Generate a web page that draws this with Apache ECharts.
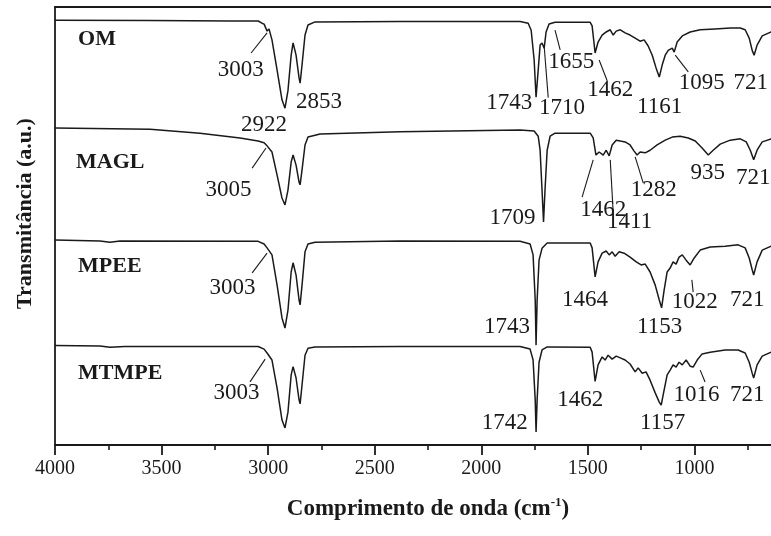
<!DOCTYPE html>
<html>
<head>
<meta charset="utf-8">
<script src="https://cdn.jsdelivr.net/npm/echarts@6/dist/echarts.min.js"></script>
<style>
  html, body { margin: 0; padding: 0; background: #fff; }
  #main { width: 771px; height: 536px; }
</style>
</head>
<body>
<div id="main"></div>
<script>
// espectros FTIR, [numero de onda cm-1, transmitancia empilhada (u.a.)]
const omData = [
  [4000, 97.0], [3554, 96.9], [3179, 96.8], [3047, 96.8], [3029, 96.3], [3019, 96.1],
  [3005, 94.5], [2996, 95.0], [2982, 92.5], [2958, 85.6], [2935, 78.8], [2921, 76.9],
  [2907, 80.9], [2892, 89.0], [2883, 91.8], [2869, 89.0], [2855, 83.8], [2850, 82.6],
  [2841, 86.8], [2827, 93.6], [2813, 95.9], [2780, 96.6], [2381, 96.7], [1818, 96.7],
  [1780, 96.3], [1766, 94.7], [1752, 87.9], [1743, 79.4], [1733, 85.6], [1724, 91.3],
  [1715, 91.8], [1705, 90.6], [1696, 94.3], [1682, 96.1], [1654, 96.5], [1489, 96.5],
  [1480, 95.7], [1466, 89.5], [1452, 92.0], [1433, 93.6], [1414, 94.3], [1395, 94.8],
  [1381, 93.6], [1367, 94.5], [1348, 94.8], [1325, 94.1], [1302, 93.6], [1278, 92.9],
  [1255, 92.2], [1236, 92.5], [1217, 91.1], [1198, 89.0], [1180, 86.1], [1165, 84.0],
  [1151, 86.8], [1137, 89.0], [1123, 90.1], [1114, 89.7], [1104, 90.6], [1095, 89.7],
  [1081, 92.0], [1057, 93.4], [1020, 94.3], [973, 94.8], [903, 95.0], [832, 95.2],
  [785, 95.2], [762, 94.8], [743, 92.9], [729, 90.1], [720, 89.0], [706, 91.3],
  [682, 93.4], [640, 94.3], [600, 94.6]
];
const maglData = [
  [4000, 72.4], [3554, 72.1], [3320, 71.2], [3132, 70.1], [3047, 69.4], [3019, 69.0],
  [3005, 68.3], [2996, 68.5], [2982, 66.9], [2958, 61.6], [2935, 56.4], [2921, 54.8],
  [2907, 58.2], [2892, 64.6], [2883, 66.2], [2869, 63.9], [2855, 60.0], [2850, 59.4],
  [2841, 62.8], [2827, 68.5], [2813, 70.3], [2756, 71.0], [2381, 71.5], [1818, 71.9],
  [1752, 71.7], [1733, 70.5], [1724, 67.3], [1715, 58.2], [1708, 50.9], [1701, 58.2],
  [1691, 67.3], [1677, 70.5], [1654, 71.2], [1489, 71.2], [1475, 70.1], [1462, 66.2],
  [1447, 66.9], [1428, 66.2], [1414, 67.3], [1400, 66.0], [1386, 68.5], [1367, 69.6],
  [1348, 69.4], [1325, 69.2], [1302, 68.5], [1283, 67.1], [1269, 66.2], [1255, 66.9],
  [1231, 66.7], [1208, 67.3], [1175, 68.5], [1137, 69.6], [1104, 70.3], [1067, 70.5],
  [1029, 70.1], [996, 69.4], [964, 67.8], [935, 66.2], [912, 67.3], [879, 68.7],
  [832, 69.6], [785, 69.9], [757, 69.2], [738, 67.3], [722, 65.1], [706, 67.3],
  [682, 69.2], [640, 69.9], [600, 70.0]
];
const mpeeData = [
  [4000, 46.8], [3789, 46.6], [3742, 46.3], [3695, 46.6], [3047, 46.5], [3019, 45.9],
  [3005, 45.0], [2996, 45.2], [2982, 43.4], [2958, 36.5], [2935, 29.0], [2921, 26.7],
  [2907, 30.8], [2892, 39.5], [2883, 41.6], [2869, 38.8], [2855, 33.1], [2850, 32.0],
  [2841, 36.5], [2827, 44.1], [2813, 45.9], [2780, 46.3], [2381, 46.6], [1818, 46.5],
  [1771, 45.9], [1757, 43.4], [1747, 33.1], [1743, 22.8], [1738, 33.1], [1729, 42.2],
  [1715, 44.9], [1691, 46.1], [1489, 46.1], [1480, 45.0], [1466, 38.4], [1452, 41.8],
  [1433, 43.8], [1414, 44.3], [1400, 43.4], [1386, 44.1], [1372, 43.1], [1353, 44.1],
  [1330, 43.8], [1302, 42.9], [1273, 41.8], [1250, 41.1], [1231, 41.3], [1208, 39.5],
  [1184, 36.5], [1165, 33.1], [1154, 31.3], [1142, 35.4], [1128, 39.5], [1114, 40.4],
  [1100, 41.8], [1086, 41.3], [1072, 42.9], [1057, 43.4], [1039, 42.2], [1020, 41.1],
  [1001, 42.7], [973, 44.5], [926, 45.2], [856, 45.4], [795, 45.7], [762, 45.0],
  [743, 42.7], [729, 40.0], [722, 38.8], [706, 41.8], [682, 44.5], [640, 45.4], [600, 45.6]
];
const mtmpeData = [
  [4000, 22.7], [3789, 22.6], [3742, 22.3], [3672, 22.5], [3047, 22.5], [3019, 21.9],
  [3005, 21.0], [2996, 21.2], [2982, 19.4], [2958, 13.0], [2935, 5.7], [2921, 3.9],
  [2907, 7.5], [2892, 16.0], [2883, 17.9], [2869, 15.3], [2855, 10.3], [2850, 9.4],
  [2841, 13.7], [2827, 20.5], [2813, 22.1], [2780, 22.4], [2381, 22.5], [1818, 22.5],
  [1771, 21.9], [1757, 19.4], [1747, 10.3], [1743, 3.0], [1738, 10.3], [1729, 18.9],
  [1715, 21.7], [1691, 22.4], [1489, 22.3], [1480, 21.2], [1466, 14.5], [1452, 18.3],
  [1433, 20.1], [1419, 19.4], [1405, 20.5], [1386, 19.6], [1367, 20.3], [1348, 19.9],
  [1325, 19.4], [1302, 18.5], [1278, 16.7], [1264, 17.6], [1245, 16.4], [1227, 16.7],
  [1208, 14.8], [1184, 11.9], [1165, 9.8], [1156, 9.1], [1142, 12.6], [1128, 16.0],
  [1114, 17.1], [1100, 18.3], [1086, 17.8], [1072, 18.9], [1057, 18.3], [1039, 19.4],
  [1020, 18.0], [1006, 17.8], [987, 19.4], [964, 20.8], [926, 21.2], [856, 21.7],
  [795, 21.7], [762, 21.0], [743, 18.9], [729, 16.4], [722, 15.3], [706, 18.3],
  [682, 20.3], [640, 21.2], [600, 21.4]
];

// nomes das amostras: [texto, x, y]
const sampleNames = [
  ['OM', 3892, 92.6],
  ['MAGL', 3901, 64.6],
  ['MPEE', 3892, 40.9],
  ['MTMPE', 3892, 16.4]
];

// picos: [texto, x, y, linha guia opcional [x1, y1, x2, y2]]
const peakNotes = [
  ['3003', 3129, 85.6, [3005, 94.1, 3080, 89.5]],
  ['2922', 3019, 73.1],
  ['2853', 2761, 78.3],
  ['1743', 1869, 78.1],
  ['1710', 1621, 76.9, [1705, 91.1, 1686, 79.3]],
  ['1655', 1578, 87.4, [1654, 94.7, 1630, 90.2]],
  ['1462', 1395, 81.0, [1447, 87.9, 1409, 83.1]],
  ['1161', 1163, 77.2],
  ['1095', 966, 82.6, [1090, 89.0, 1029, 85.2]],
  ['721', 736, 82.6],

  ['3005', 3186, 58.2, [3010, 67.8, 3075, 63.2]],
  ['1709', 1853, 51.8],
  ['1462', 1428, 53.7, [1475, 65.1, 1527, 56.6]],
  ['1411', 1304, 50.9, [1395, 65.1, 1381, 53.0]],
  ['1282', 1191, 58.2, [1278, 65.8, 1240, 59.8]],
  ['935', 938, 62.1],
  ['721', 724, 61.0],

  ['3003', 3167, 35.8, [3005, 43.8, 3075, 39.3]],
  ['1743', 1879, 26.9],
  ['1464', 1513, 33.1],
  ['1153', 1163, 26.9],
  ['1022', 999, 32.6, [1012, 37.7, 1006, 34.9]],
  ['721', 752, 33.1],

  ['3003', 3148, 11.9, [3014, 19.6, 3085, 14.4]],
  ['1742', 1890, 5.0],
  ['1462', 1536, 10.3],
  ['1157', 1149, 5.0],
  ['1016', 990, 11.4, [973, 17.1, 950, 14.4]],
  ['721', 752, 11.4]
];

const SERIF = 'Liberation Serif';
const INK = '#1a1a1a';

let chartDom = document.getElementById('main');
let myChart = echarts.init(chartDom);

let traceSeries = function (data) {
  return {
    type: 'line',
    data: data,
    showSymbol: false,
    silent: true,
    clip: true,
    lineStyle: { color: INK, width: 1.5 },
    z: 3
  };
};

let noteSeries = function (list, bold, size, align) {
  return {
    type: 'custom',
    silent: true,
    clip: false,
    z: 5,
    data: list.map(n => [n[1], n[2]]),
    encode: { x: 0, y: 1 },
    renderItem: function (params, api) {
      let n = list[params.dataIndex];
      let p = api.coord([n[1], n[2]]);
      let children = [{
        type: 'text',
        x: p[0],
        y: p[1],
        style: {
          text: n[0],
          fill: INK,
          fontFamily: SERIF,
          fontSize: size,
          fontWeight: bold ? 'bold' : 'normal',
          align: align,
          verticalAlign: 'middle'
        }
      }];
      if (n[3]) {
        let a = api.coord([n[3][0], n[3][1]]);
        let b = api.coord([n[3][2], n[3][3]]);
        children.push({
          type: 'line',
          shape: { x1: a[0], y1: a[1], x2: b[0], y2: b[1] },
          style: { stroke: INK, lineWidth: 1.1 }
        });
      }
      return { type: 'group', children: children };
    }
  };
};

let option = {
  animation: false,
  backgroundColor: '#fff',
  grid: { left: 55, top: 7, width: 746, height: 438, outerBoundsMode: 'none', containLabel: false },
  xAxis: [
    {
      type: 'value',
      inverse: true,
      min: 500,
      max: 4000,
      interval: 500,
      axisLine: { lineStyle: { color: INK, width: 1.8 } },
      axisTick: { length: 10, lineStyle: { color: INK, width: 1.8 } },
      minorTick: { show: true, splitNumber: 2, length: 5, lineStyle: { color: INK, width: 1.6 } },
      splitLine: { show: false },
      axisLabel: {
        fontFamily: SERIF, fontSize: 20, color: INK, margin: 14, showMinLabel: true,
        formatter: v => String(v)
      },
      name: '{b|Comprimento de onda (cm}{s|-1}{b|)}',
      nameLocation: 'middle',
      nameGap: 51,
      nameTextStyle: {
        rich: {
          b: { fontFamily: SERIF, fontSize: 23, fontWeight: 'bold', color: INK, lineHeight: 26 },
          s: { fontFamily: SERIF, fontSize: 13, fontWeight: 'bold', color: INK, verticalAlign: 'top', lineHeight: 26 }
        }
      }
    },
    {
      type: 'value',
      position: 'top',
      inverse: true,
      min: 500,
      max: 4000,
      axisLine: { show: true, lineStyle: { color: INK, width: 1.8 } },
      axisTick: { show: false },
      axisLabel: { show: false },
      splitLine: { show: false }
    }
  ],
  yAxis: {
    type: 'value',
    min: 0,
    max: 100,
    axisLine: { show: true, lineStyle: { color: INK, width: 1.8 } },
    axisTick: { show: false },
    axisLabel: { show: false },
    splitLine: { show: false },
    name: 'Transmitância (a.u.)',
    nameLocation: 'middle',
    nameGap: 19,
    nameTextStyle: {
      fontFamily: SERIF,
      fontSize: 22,
      fontWeight: 'bold',
      color: INK,
      padding: [0, 0, 0, 25]
    }
  },
  series: [
    traceSeries(omData),
    traceSeries(maglData),
    traceSeries(mpeeData),
    traceSeries(mtmpeData),
    noteSeries(sampleNames, true, 22, 'left'),
    noteSeries(peakNotes, false, 23, 'center')
  ]
};

myChart.setOption(option);
</script>
</body>
</html>
